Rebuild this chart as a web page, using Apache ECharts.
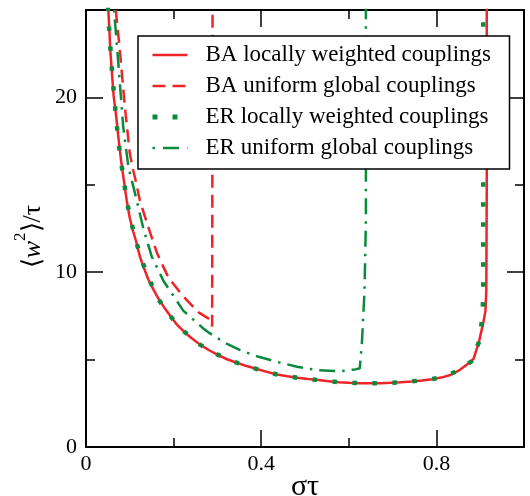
<!DOCTYPE html>
<html><head><meta charset="utf-8">
<script src="https://cdn.jsdelivr.net/npm/echarts@6/dist/echarts.min.js"></script>
<style>html,body{margin:0;padding:0;background:#fff}#c{width:530px;height:496px}</style>
</head><body><div id="c"></div>
<script>
const seriesNames = ['BA locally weighted couplings','BA uniform global couplings','ER locally weighted couplings','ER uniform global couplings'];
const xTickLabels = ['0','0.4','0.8'];
const yTickLabels = ['0','10','20'];

const baLocalX = [0.051,0.056,0.063,0.069,0.074,0.080,0.085,0.093,0.100,0.108,0.114,0.123,0.130,0.142,0.154,0.165,0.178,0.191,0.206,0.222,0.240,0.258,0.280,0.302,0.322,0.344,0.367,0.390,0.413,0.436,0.460,0.483,0.507,0.531,0.554,0.577,0.600,0.625,0.650,0.672,0.695,0.719,0.743,0.767,0.790,0.811,0.832,0.853,0.870,0.885,0.897,0.907,0.912,0.914,0.915,0.915];
const baLocalY = [25,22.5,20.1,18.9,17.7,16.4,15.5,14.1,13.1,12.3,11.8,10.9,10.4,9.6,9.0,8.5,8.0,7.55,7.05,6.64,6.25,5.9,5.55,5.26,5.02,4.82,4.63,4.46,4.30,4.15,4.05,3.96,3.89,3.83,3.76,3.71,3.67,3.65,3.64,3.65,3.67,3.70,3.75,3.81,3.88,3.97,4.12,4.40,4.72,5.05,6.0,7.1,7.8,9.0,15,26];

const baUniformX = [0.068,0.078,0.089,0.100,0.108,0.112,0.123,0.142,0.162,0.188,0.219,0.257,0.283,0.288,0.289];
const baUniformY = [25,22.5,19.4,16.8,15.8,15.4,14.1,12.6,11.1,9.7,8.7,7.7,7.3,6.9,26];

const erLocalX = [0.050,0.053,0.0565,0.060,0.0645,0.0685,0.073,0.079,0.086,0.093,0.102,0.114,0.127,0.144,0.164,0.190,0.222,0.257,0.299,0.344,0.390,0.436,0.483,0.531,0.577,0.625,0.672,0.719,0.767,0.811,0.853,0.880,0.897,0.904,0.907,0.907];
const erLocalY = [25.2,23.9,22.5,21.3,20.0,18.9,17.7,16.5,15.3,14.1,13.0,11.8,10.7,9.6,8.5,7.55,6.65,5.9,5.3,4.82,4.46,4.15,3.96,3.83,3.71,3.65,3.65,3.70,3.81,3.97,4.4,4.9,6.0,7.2,8.5,26];

const erUniformX = [0.064,0.074,0.085,0.097,0.112,0.131,0.150,0.177,0.222,0.268,0.283,0.318,0.352,0.394,0.436,0.482,0.527,0.581,0.615,0.625,0.630,0.636,0.639,0.639];
const erUniformY = [25,21.9,18.3,16.0,14.5,12.5,10.9,9.5,7.8,6.78,6.5,5.95,5.54,5.16,4.87,4.59,4.40,4.34,4.44,4.5,6.0,9.0,13,26];

const RED = '#ee2428', GREEN = '#0b8a3e';
const zip = (xs, ys) => xs.map((x, i) => [x, ys[i]]);
const FONT = 'Liberation Serif';

const styles = [
  {color:RED, width:2.5, type:'solid'},
  {color:RED, width:2.5, type:[13,7], cap:'butt'},
  {color:GREEN, width:4.5, type:[4.5,15.5], cap:'butt'},
  {color:GREEN, width:2.5, type:[2.5,7,16,7], cap:'butt'}
];
const legendStyles = [
  {color:RED, width:2.5, type:'solid'},
  {color:RED, width:2.5, type:[13,7], cap:'butt'},
  {color:GREEN, width:5, type:[5,15], cap:'butt'},
  {color:GREEN, width:2.5, type:[2.5,8,16,8], cap:'butt'}
];

const baseX = {type:'value', min:0, max:1, interval:0.4, gridIndex:0,
  axisLine:{show:true, onZero:false, lineStyle:{color:'#000', width:2}},
  axisTick:{show:true, inside:true, length:17, lineStyle:{color:'#000', width:1.5}},
  minorTick:{show:true, splitNumber:2, length:9, lineStyle:{color:'#000', width:1.5}},
  splitLine:{show:false}, minorSplitLine:{show:false}};
const baseY = {type:'value', min:0, max:25, interval:10, gridIndex:0,
  axisLine:{show:true, onZero:false, lineStyle:{color:'#000', width:2}},
  axisTick:{show:true, inside:true, length:17, lineStyle:{color:'#000', width:1.5}},
  minorTick:{show:true, splitNumber:2, length:9, lineStyle:{color:'#000', width:1.5}},
  splitLine:{show:false}, minorSplitLine:{show:false}};

const chart = echarts.init(document.getElementById('c'), null, {renderer:'canvas'});
chart.setOption({
  animation:false,
  backgroundColor:'#fff',
  grid:{left:86, right:6, top:10, bottom:49, containLabel:false, outerBoundsMode:'none'},
  xAxis:[
    Object.assign({}, baseX, {position:'bottom',
      name:'στ', nameLocation:'middle', nameGap:25, nameMoveOverlap:false,
      nameTextStyle:{fontFamily:FONT, fontSize:30, color:'#000'},
      axisLabel:{show:true, margin:6, fontFamily:FONT, fontSize:22, color:'#000', showMaxLabel:false,
        formatter:v => { const i = xTickLabels.indexOf(String(v)); return i >= 0 ? xTickLabels[i] : ''; }}}),
    Object.assign({}, baseX, {position:'top', axisLabel:{show:false}})
  ],
  yAxis:[
    Object.assign({}, baseY, {position:'left',
      name:'{b|⟨}{w|w}{s|2}{b|⟩/τ}', nameLocation:'middle', nameGap:40, nameRotate:90, nameMoveOverlap:false,
      nameTextStyle:{fontFamily:FONT, fontSize:26, color:'#000', padding:[0,16,0,0],
        rich:{b:{fontFamily:FONT, fontSize:26, lineHeight:34, verticalAlign:'bottom', color:'#000'},
              w:{fontFamily:FONT, fontSize:26, fontStyle:'italic', lineHeight:34, verticalAlign:'bottom', color:'#000'},
              s:{fontFamily:FONT, fontSize:17, lineHeight:34, verticalAlign:'top', color:'#000'}}},
      axisLabel:{show:true, margin:9, fontFamily:FONT, fontSize:22, color:'#000', showMaxLabel:false,
        formatter:v => { const i = yTickLabels.indexOf(String(v)); return i >= 0 ? yTickLabels[i] : ''; }}}),
    Object.assign({}, baseY, {position:'right', axisLabel:{show:false}})
  ],
  legend:{
    orient:'vertical', left:138, top:36,
    data:seriesNames.map((n, i) => ({name:n, lineStyle:legendStyles[i]})),
    itemWidth:35, itemHeight:14, itemGap:7,
    itemStyle:{opacity:0, borderWidth:0},
    padding:[7, 8, 9, 12],
    borderColor:'#000', borderWidth:1.5, borderRadius:0,
    backgroundColor:'#fff',
    textStyle:{fontFamily:FONT, fontSize:23, color:'#000', lineHeight:24, width:296, padding:[0,0,0,13]}
  },
  series:seriesNames.map((n, i) => ({
    name:n, type:'line',
    data:[zip(baLocalX, baLocalY), zip(baUniformX, baUniformY), zip(erLocalX, erLocalY), zip(erUniformX, erUniformY)][i],
    showSymbol:false, symbol:'none', clip:true,
    lineStyle:styles[i], itemStyle:{color:styles[i].color}
  }))
});
</script></body></html>
